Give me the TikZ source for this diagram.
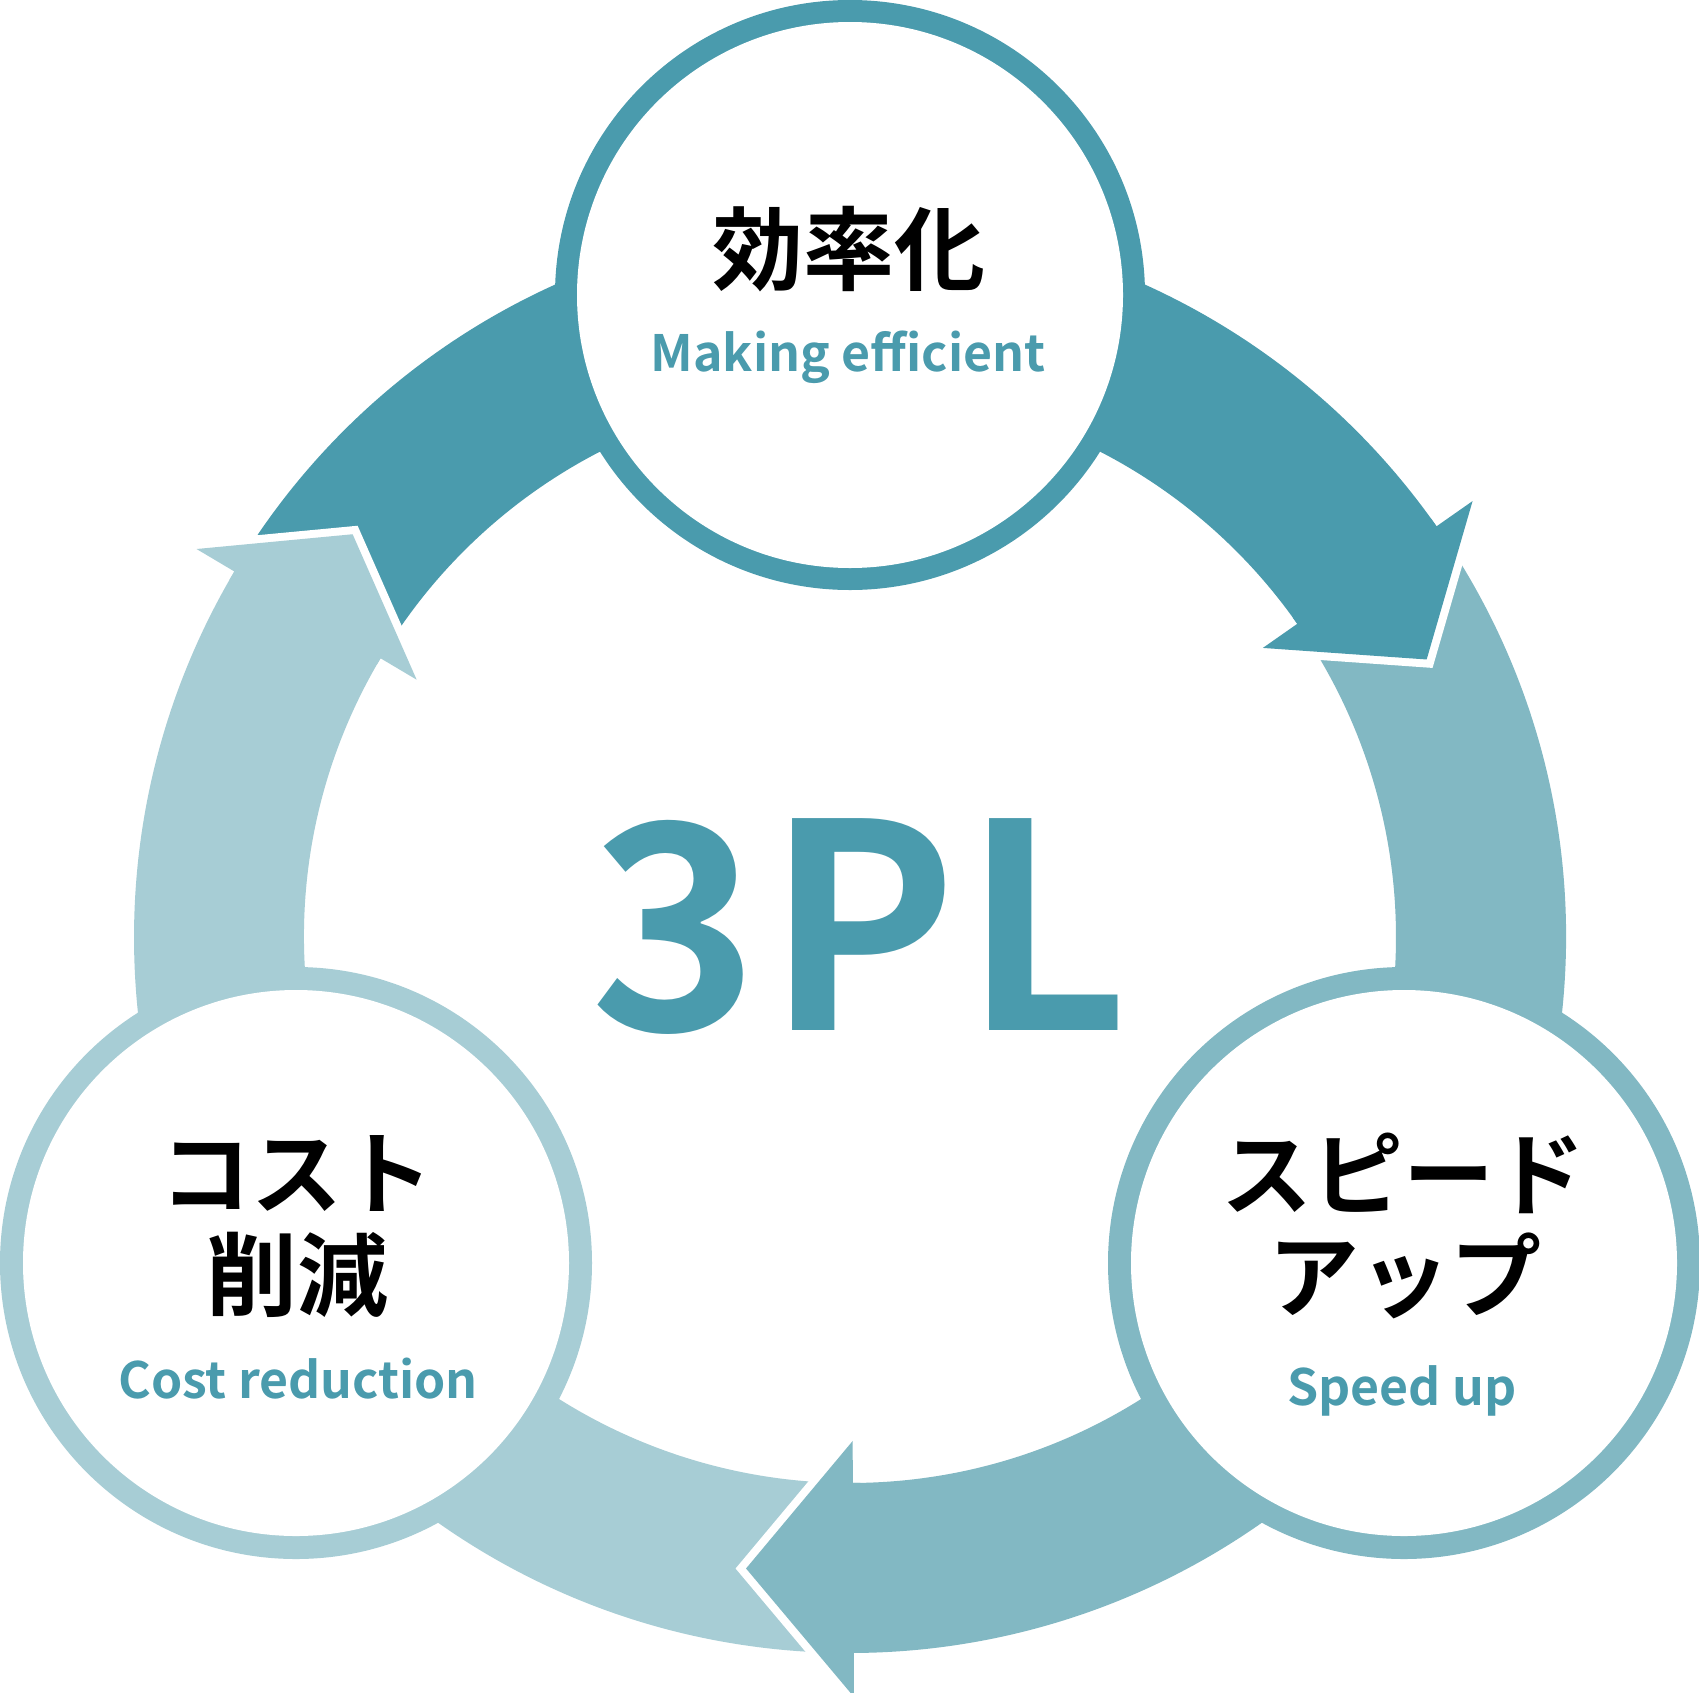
\documentclass[tikz,border=0pt]{standalone}
\usepackage{fontspec}
\setmainfont{Noto Sans CJK JP}[BoldFont={Noto Sans CJK JP Bold}]
\definecolor{cDark}{HTML}{4A9BAD}
\definecolor{cMid}{HTML}{82B8C3}
\definecolor{cLight}{HTML}{A7CDD5}
\newcommand\myband[3]{% colour, tail angle, base angle
  \fill[#1] (#2:716) arc[start angle=#2,end angle=#3,radius=716]
    -- (#3:546) arc[start angle=#3,end angle=#2,radius=546] -- cycle;}
\newcommand\myhead[3]{% colour, base angle, apex angle
  \draw[white,line width=16pt,line join=miter] (#2:760) -- (#3:640) -- (#2:504);
  \fill[#1] ({#2+0.8}:716) -- (#2:716) -- (#2:760) -- (#3:640) -- (#2:504)
    -- (#2:546) -- ({#2+0.8}:546) -- cycle;}
\tikzset{
  jpbig/.style={inner sep=0pt,anchor=center,font=\bfseries\fontsize{91}{91}\selectfont,text=black},
  entext/.style={inner sep=0pt,anchor=base,font=\bfseries\fontsize{50}{50}\selectfont,text=cDark},
}
\begin{document}
\begin{tikzpicture}[x=1pt,y=1pt]
\useasboundingbox (0,0) rectangle (1699,-1692);
\fill[white] (0,0) rectangle (1699,-1692);
\begin{scope}[shift={(850,-937)}]
  \myband{cLight}{-91.7}{-210.7}
  \myband{cDark}{147}{35}
  \myband{cMid}{33}{-89.7}
  \myhead{cLight}{-210.7}{-219}
  \myhead{cDark}{35}{25.7}
  \myhead{cMid}{-89.7}{-99.35}
\end{scope}
% circles
\fill[cDark] (850,-295) circle[radius=295];
\fill[white] (850,-295) circle[radius=273];
\fill[cLight] (296,-1263) circle[radius=296];
\fill[white] (296,-1263) circle[radius=273];
\fill[cMid] (1404,-1263) circle[radius=296];
\fill[white] (1404,-1263) circle[radius=273];
% texts
\node[inner sep=0pt,anchor=base,font=\bfseries\fontsize{286}{286}\selectfont,text=cDark] (pl) at (860,-1030.5) {3\kern7pt P\kern7pt L};
\node[jpbig] (j1) at (848.5,-249) {効率化};
\node[entext] (e1) at (848,-371) {Making efficient};
\node[jpbig] (j2a) at (1403,-1173) {スピード};
\node[jpbig] (j2b) at (1405,-1276) {アップ};
\node[entext] (e2) at (1402,-1405) {Speed up};
\node[jpbig] (j3a) at (296.5,-1173) {コスト};
\node[jpbig] (j3b) at (297.5,-1275) {削減};
\node[entext] (e3) at (298,-1398) {Cost reduction};
\end{tikzpicture}
\end{document}
